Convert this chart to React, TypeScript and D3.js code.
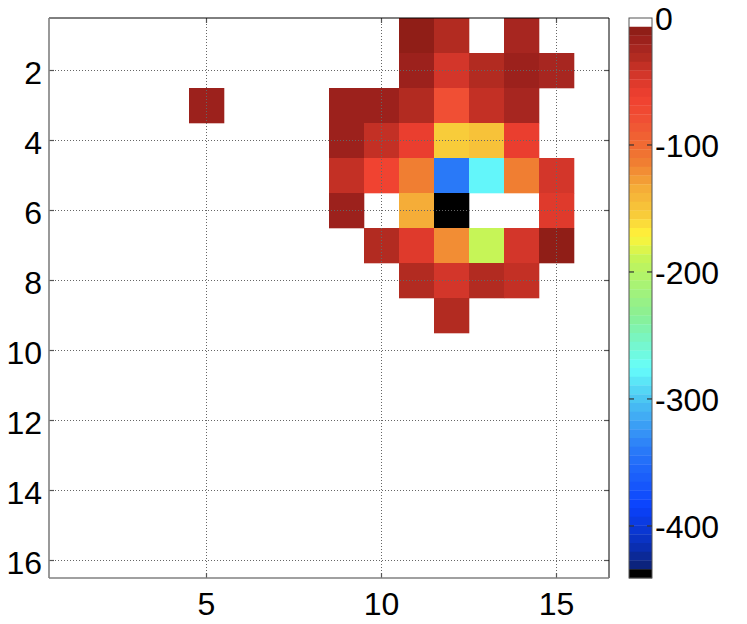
import React, {useRef, useEffect} from "react";
import * as d3 from "d3";

// grid indices (1..16 on both axes)
const xIndex = d3.range(1, 17);
const yIndex = d3.range(1, 17);

// cell values, one row per y index (0 = empty / white)
const row1  = [0, 0, 0, 0, 0, 0, 0, 0, 0, 0, -10, -28, 0, -24, 0, 0];
const row2  = [0, 0, 0, 0, 0, 0, 0, 0, 0, 0, -17, -45, -28, -17, -24, 0];
const row3  = [0, 0, 0, 0, -16, 0, 0, 0, -16, -16, -28, -80, -38, -22, 0, 0];
const row4  = [0, 0, 0, 0, 0, 0, 0, 0, -16, -38, -62, -155, -145, -62, 0, 0];
const row5  = [0, 0, 0, 0, 0, 0, 0, 0, -38, -65, -112, -338, -278, -112, -45, 0];
const row6  = [0, 0, 0, 0, 0, 0, 0, 0, -16, 0, -134, -441, 0, 0, -52, 0];
const row7  = [0, 0, 0, 0, 0, 0, 0, 0, 0, -28, -52, -120, -190, -45, -10, 0];
const row8  = [0, 0, 0, 0, 0, 0, 0, 0, 0, 0, -30, -45, -28, -38, 0, 0];
const row9  = [0, 0, 0, 0, 0, 0, 0, 0, 0, 0, 0, -28, 0, 0, 0, 0];
const emptyRow = [0, 0, 0, 0, 0, 0, 0, 0, 0, 0, 0, 0, 0, 0, 0, 0];
const values = [row1, row2, row3, row4, row5, row6, row7, row8, row9,
    emptyRow, emptyRow, emptyRow, emptyRow, emptyRow, emptyRow, emptyRow];

const xTicks = [5, 10, 15];
const yTicks = [2, 4, 6, 8, 10, 12, 14, 16];
const colorTicks = [0, -100, -200, -300, -400];
const colorMin = -441;
const nLevels = 64;

// colormap stops (reversed jet-like, white on top, black at the bottom)
const stopValues = [-7, -22, -30, -45, -62, -80, -112, -135, -155, -172, -190, -235, -276, -300, -340, -385, -415, -434];
const stopColors = ["#8a1c14", "#a42420", "#b02a20", "#d4362a", "#f04030", "#f05034", "#f07a32", "#f5ae38",
    "#f8cc3a", "#fff43a", "#c4f558", "#88f096", "#66fdfb", "#4cc6f2", "#2a7af8", "#0a42fd", "#0a30b8", "#0c2070"];

const HeatMap = () => {
    const ref = useRef<SVGSVGElement>(null);

    useEffect(() => {
        const svgWidth = 747;
        const svgHeight = 624;
        const plot = {left: 49, right: 609, top: 18, bottom: 578};
        const bar = {left: 629, right: 652};
        const fontSize = "32px";
        const gridColor = "#666";

        const svg = d3.select(ref.current)
            .attr("width", svgWidth)
            .attr("height", svgHeight);
        svg.selectAll("*").remove();

        const xScale = d3.scaleLinear().domain([0.5, 16.5]).range([plot.left, plot.right]);
        const yScale = d3.scaleLinear().domain([0.5, 16.5]).range([plot.top, plot.bottom]);
        const cScale = d3.scaleLinear().domain([0, colorMin]).range([plot.top, plot.bottom]);

        const stopScale = d3.scaleLinear<string>()
            .domain(stopValues)
            .range(stopColors)
            .interpolate(d3.interpolateRgb)
            .clamp(true);

        const levelStep = -colorMin / nLevels;
        const levelOf = (v: number) => Math.max(0, Math.min(nLevels - 1, Math.floor(-v / levelStep)));
        const levelColor = (k: number) => {
            if (k === 0) return "#ffffff";
            if (k === nLevels - 1) return "#000000";
            return stopScale(-(k + 0.5) * levelStep);
        };
        const colorOf = (v: number) => levelColor(levelOf(v));

        // cells
        const cells = values.flatMap((row, i) => row.map((v, j) => ({x: xIndex[j], y: yIndex[i], v})))
            .filter(d => d.v < 0);

        svg.append("g")
            .selectAll("rect")
            .data(cells)
            .enter()
            .append("rect")
            .attr("x", d => xScale(d.x - 0.5))
            .attr("y", d => yScale(d.y - 0.5))
            .attr("width", xScale(1.5) - xScale(0.5) + 0.3)
            .attr("height", yScale(1.5) - yScale(0.5) + 0.3)
            .attr("fill", d => colorOf(d.v));

        // dotted grid on top of the cells
        const grid = svg.append("g");
        grid.selectAll(".vgrid")
            .data(xTicks)
            .enter()
            .append("line")
            .attr("x1", d => xScale(d)).attr("x2", d => xScale(d))
            .attr("y1", plot.top).attr("y2", plot.bottom)
            .attr("stroke", gridColor)
            .attr("stroke-width", 1)
            .attr("stroke-dasharray", "1 2");
        grid.selectAll(".hgrid")
            .data(yTicks)
            .enter()
            .append("line")
            .attr("x1", plot.left).attr("x2", plot.right)
            .attr("y1", d => yScale(d)).attr("y2", d => yScale(d))
            .attr("stroke", gridColor)
            .attr("stroke-width", 1)
            .attr("stroke-dasharray", "1 2");

        // ticks, all four sides, pointing inward
        const tickLen = 5;
        const ticks = svg.append("g").attr("stroke", "#555").attr("stroke-width", 1.2);
        xTicks.forEach(t => {
            ticks.append("line").attr("x1", xScale(t)).attr("x2", xScale(t))
                .attr("y1", plot.bottom).attr("y2", plot.bottom - tickLen);
            ticks.append("line").attr("x1", xScale(t)).attr("x2", xScale(t))
                .attr("y1", plot.top).attr("y2", plot.top + tickLen);
        });
        yTicks.forEach(t => {
            ticks.append("line").attr("x1", plot.left).attr("x2", plot.left + tickLen)
                .attr("y1", yScale(t)).attr("y2", yScale(t));
            ticks.append("line").attr("x1", plot.right).attr("x2", plot.right - tickLen)
                .attr("y1", yScale(t)).attr("y2", yScale(t));
        });

        // axes box
        svg.append("line").attr("x1", plot.left).attr("x2", plot.right)
            .attr("y1", plot.top).attr("y2", plot.top)
            .attr("stroke", "#000").attr("stroke-width", 1);
        svg.append("line").attr("x1", plot.right).attr("x2", plot.right)
            .attr("y1", plot.top).attr("y2", plot.bottom)
            .attr("stroke", "#000").attr("stroke-width", 1);
        svg.append("line").attr("x1", plot.left).attr("x2", plot.left)
            .attr("y1", plot.top).attr("y2", plot.bottom)
            .attr("stroke", "#808080").attr("stroke-width", 1.6);
        svg.append("line").attr("x1", plot.left).attr("x2", plot.right)
            .attr("y1", plot.bottom).attr("y2", plot.bottom)
            .attr("stroke", "#808080").attr("stroke-width", 1.6);

        // tick labels
        const labels = svg.append("g")
            .style("font-family", "'Liberation Sans', Arial, sans-serif")
            .style("font-size", fontSize)
            .attr("fill", "#000");
        labels.selectAll(".xl")
            .data(xTicks)
            .enter()
            .append("text")
            .attr("x", d => xScale(d))
            .attr("y", plot.bottom + 37)
            .attr("text-anchor", "middle")
            .text(d => d);
        labels.selectAll(".yl")
            .data(yTicks)
            .enter()
            .append("text")
            .attr("x", plot.left - 7)
            .attr("y", d => yScale(d) + 13)
            .attr("text-anchor", "end")
            .text(d => d);

        // colorbar
        const levels = d3.range(nLevels);
        const levelH = (plot.bottom - plot.top) / nLevels;
        svg.append("g")
            .selectAll("rect")
            .data(levels)
            .enter()
            .append("rect")
            .attr("x", bar.left)
            .attr("width", bar.right - bar.left)
            .attr("y", k => cScale(-k * levelStep))
            .attr("height", levelH + 0.3)
            .attr("fill", k => levelColor(k));

        svg.append("rect")
            .attr("x", bar.left).attr("y", plot.top)
            .attr("width", bar.right - bar.left)
            .attr("height", plot.bottom - plot.top)
            .attr("fill", "none")
            .attr("stroke", "#555")
            .attr("stroke-width", 1);

        const cTicks = svg.append("g").attr("stroke", "#333").attr("stroke-width", 1.2);
        colorTicks.filter(t => t !== 0).forEach(t => {
            cTicks.append("line").attr("x1", bar.left).attr("x2", bar.left + 5)
                .attr("y1", cScale(t)).attr("y2", cScale(t));
            cTicks.append("line").attr("x1", bar.right).attr("x2", bar.right - 5)
                .attr("y1", cScale(t)).attr("y2", cScale(t));
        });

        labels.selectAll(".cl")
            .data(colorTicks)
            .enter()
            .append("text")
            .attr("x", bar.right + 3)
            .attr("y", d => cScale(d) + 12)
            .attr("text-anchor", "start")
            .text(d => (d === 0 ? "0" : "-" + Math.abs(d)));
    }, []);

    return (
        <svg ref={ref} style={{position: "absolute", left: 0, top: 0, background: "#fff"}}></svg>
    );
};

export default function App() {
    return <HeatMap/>;
}
